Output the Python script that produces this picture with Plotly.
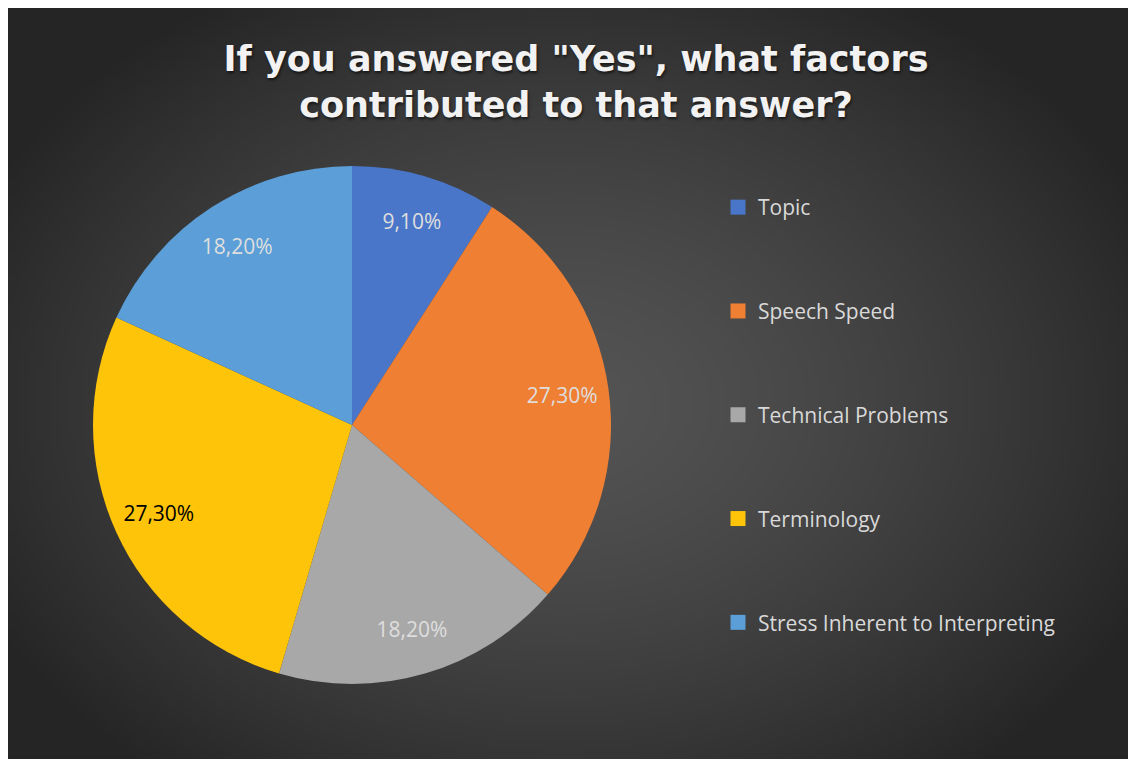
import base64, struct, zlib
import numpy as np
import plotly.graph_objects as go

# ---- data ----
categories = ["Topic", "Speech Speed", "Technical Problems", "Terminology",
              "Stress Inherent to Interpreting"]
values = [9.1, 27.3, 18.2, 27.3, 18.2]
value_labels = ["9,10%", "27,30%", "18,20%", "27,30%", "18,20%"]
colors = ["#4a76c9", "#ef7f33", "#a8a8a8", "#fec40a", "#5b9ed8"]
label_colors = ["#dedede", "#dedede", "#dedede", "#000000", "#dedede"]
title_text = 'If you answered "Yes", what factors<br>contributed to that answer?'

W, H = 1136, 759


# ---- background gradient image (decoration) ----
def make_png(arr):
    h, w, _ = arr.shape
    raw = b"".join(b"\x00" + arr[i].tobytes() for i in range(h))

    def chunk(tag, data):
        c = struct.pack(">I", len(data)) + tag + data
        return c + struct.pack(">I", zlib.crc32(tag + data) & 0xFFFFFFFF)

    return (b"\x89PNG\r\n\x1a\n"
            + chunk(b"IHDR", struct.pack(">IIBBBBB", w, h, 8, 2, 0, 0, 0))
            + chunk(b"IDAT", zlib.compress(raw, 9))
            + chunk(b"IEND", b""))


sc = 4
gw, gh = W // sc, H // sc
yy, xx = np.mgrid[0:gh, 0:gw].astype(float)
xx *= sc
yy *= sc
cx, cy = 552.0, 392.0
d = np.sqrt(((xx - cx) / 650.0) ** 2 + ((yy - cy) / 480.0) ** 2)
d = np.clip(d, 0, 1) ** 1.4
g = (0x54 + (0x25 - 0x54) * d).astype(np.uint8)
img = np.stack([g, g, g], axis=-1)
bg_uri = "data:image/png;base64," + base64.b64encode(make_png(img)).decode()

# ---- figure ----
fig = go.Figure()

cxp, cyp, r = 344, 417, 259
pie_domain = dict(x=[(cxp - r) / W, (cxp + r) / W],
                  y=[(H - cyp - r) / H, (H - cyp + r) / H])

# filled slices
fig.add_trace(go.Pie(
    labels=categories,
    values=values,
    textinfo="none",
    marker=dict(colors=colors, line=dict(width=0)),
    sort=False,
    direction="clockwise",
    rotation=0,
    showlegend=False,
    hoverinfo="label+percent",
    domain=pie_domain,
))

# data labels placed in the outer ring of the same slices
fig.add_trace(go.Pie(
    labels=categories,
    values=values,
    text=value_labels,
    textinfo="text",
    textposition="inside",
    insidetextorientation="horizontal",
    textfont=dict(family="Open Sans", size=21, color=label_colors),
    marker=dict(colors=["rgba(0,0,0,0)"] * len(values), line=dict(width=0)),
    hole=0.64,
    sort=False,
    direction="clockwise",
    rotation=0,
    showlegend=False,
    hoverinfo="skip",
    domain=pie_domain,
))

# legend entries (one per category, spaced like the original)
for i, (cat, col) in enumerate(zip(categories, colors)):
    fig.add_trace(go.Scatter(
        x=[None], y=[None], mode="markers", name=cat,
        legendgroup=f"g{i}",
        marker=dict(symbol="square", size=15, color=col),
    ))

fig.update_layout(
    width=W, height=H,
    margin=dict(l=0, r=0, t=0, b=0),
    paper_bgcolor="#2a2a2a",
    plot_bgcolor="rgba(0,0,0,0)",
    xaxis=dict(visible=False),
    yaxis=dict(visible=False),
    images=[dict(source=bg_uri, xref="paper", yref="paper",
                 x=0, y=1, sizex=1, sizey=1,
                 xanchor="left", yanchor="top", sizing="stretch",
                 layer="below")],
    title=dict(
        text=title_text,
        x=0.5, xanchor="center",
        y=1 - 63 / H, yanchor="middle",
        font=dict(family="DejaVu Sans", size=35, color="#f2f2f2",
                  weight="bold", shadow="1px 2px 3px rgba(0,0,0,0.6)"),
    ),
    legend=dict(
        x=0.625, xanchor="left",
        y=1 - 179 / H, yanchor="top",
        font=dict(family="Open Sans", size=21, color="#d9d9d9"),
        tracegroupgap=73.5,
        bgcolor="rgba(0,0,0,0)",
        itemclick=False, itemdoubleclick=False,
    ),
)

fig.write_html("out.html")
